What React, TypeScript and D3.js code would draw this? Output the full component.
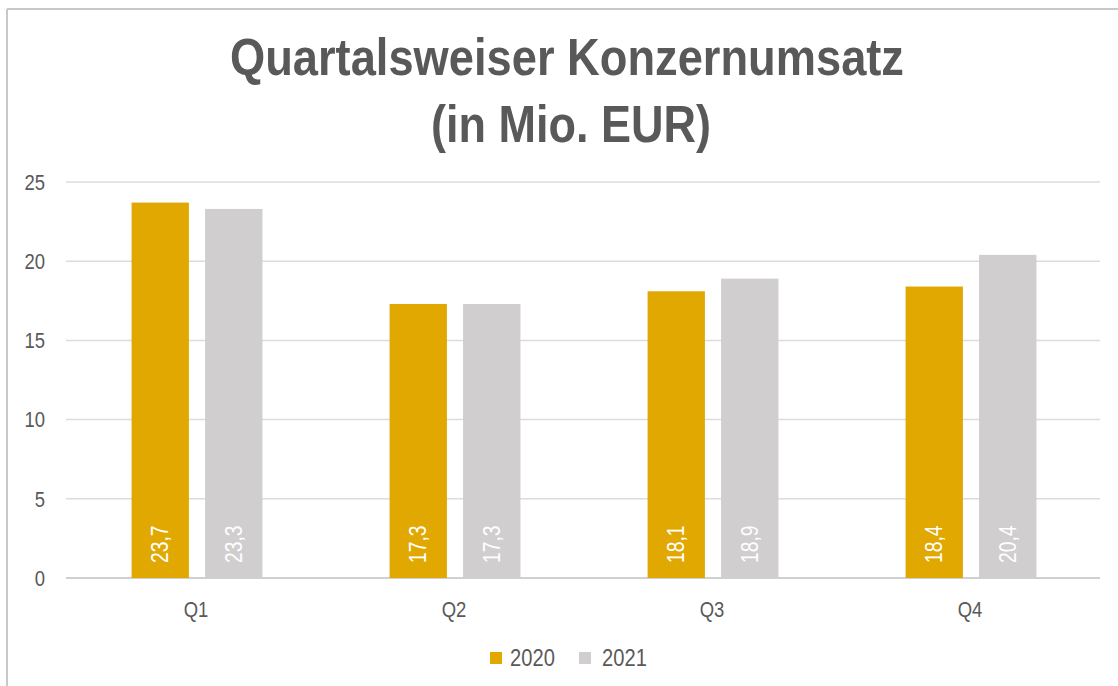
import React from "react";
import * as d3 from "d3";

const categories = ["Q1", "Q2", "Q3", "Q4"];
const seriesNames = ["2020", "2021"];
const values2020 = [23.7, 17.3, 18.1, 18.4];
const values2021 = [23.3, 17.3, 18.9, 20.4];
const yTicks = [0, 5, 10, 15, 20, 25];
const titleLines = ["Quartalsweiser Konzernumsatz", "(in Mio. EUR)"];
const colors = ["#E0A800", "#D0CECE"];

const W = 1118;
const H = 686;
const FONT = "'Liberation Sans Narrow', 'Arial Narrow', 'Liberation Sans', Arial, sans-serif";
const TEXT = "#595959";
const NARROW = 0.84;

function NText(props: {
  x: number;
  y: number;
  rotate?: number;
  anchor?: "start" | "middle" | "end";
  size: number;
  fill: string;
  dy?: string;
  children: React.ReactNode;
}) {
  const { x, y, rotate = 0, anchor = "start", size, fill, dy, children } = props;
  return (
    <g transform={`translate(${x},${y}) rotate(${rotate}) scale(${NARROW},1)`}>
      <text x={0} y={0} dy={dy} textAnchor={anchor} fontFamily={FONT} fontSize={size} fill={fill}>
        {children}
      </text>
    </g>
  );
}

export default function App() {
  const seriesValues = [values2020, values2021];
  const y = d3.scaleLinear().domain([0, 25]).range([578, 182]);
  const x0 = d3.scaleBand<string>().domain(categories).range([68, 1100]).padding(0);
  const x1 = d3
    .scaleBand<string>()
    .domain(seriesNames)
    .range([0, x0.bandwidth()])
    .paddingInner(0.22)
    .paddingOuter(0.865);
  const fmt = (v: number) => v.toFixed(1).replace(".", ",");

  return (
    <svg
      width={W}
      height={H}
      style={{ position: "absolute", left: 0, top: 0, background: "#fff" }}
    >
      <rect x={0} y={0} width={W} height={H} fill="#fff" />
      {/* frame */}
      <line x1={7} y1={9} x2={W} y2={9} stroke="#c8c8c8" strokeWidth={2} />
      <line x1={7} y1={9} x2={7} y2={H} stroke="#c8c8c8" strokeWidth={2} />

      {/* title */}
      <text
        x={567}
        y={75}
        textAnchor="middle"
        fontFamily={FONT}
        fontWeight="bold"
        fontSize={52}
        fill={TEXT}
        textLength={674}
        lengthAdjust="spacingAndGlyphs"
      >
        {titleLines[0]}
      </text>
      <text
        x={571}
        y={142}
        textAnchor="middle"
        fontFamily={FONT}
        fontWeight="bold"
        fontSize={52}
        fill={TEXT}
        textLength={280}
        lengthAdjust="spacingAndGlyphs"
      >
        {titleLines[1]}
      </text>

      {/* gridlines */}
      {yTicks.map((t) => (
        <line
          key={t}
          x1={66}
          x2={1100}
          y1={y(t)}
          y2={y(t)}
          stroke={t === 0 ? "#d0d0d0" : "#dcdcdc"}
          strokeWidth={t === 0 ? 2 : 1.5}
        />
      ))}
      {yTicks.map((t) => (
        <NText key={"l" + t} x={45} y={y(t)} dy="0.35em" anchor="end" size={22} fill={TEXT}>
          {t}
        </NText>
      ))}

      {/* bars */}
      {categories.map((c, i) => (
        <g key={c} transform={`translate(${x0(c)},0)`}>
          {seriesNames.map((s, j) => {
            const v = seriesValues[j][i];
            const bx = x1(s)!;
            const bw = x1.bandwidth();
            return (
              <g key={s}>
                <rect x={bx} y={y(v)} width={bw} height={y(0) - y(v)} fill={colors[j]} />
                <NText x={bx + bw / 2} y={563} rotate={-90} dy="0.35em" size={23} fill="#ffffff">
                  {fmt(v)}
                </NText>
              </g>
            );
          })}
          <NText x={x0.bandwidth() / 2 - 1} y={617} anchor="middle" size={22} fill={TEXT}>
            {c}
          </NText>
        </g>
      ))}

      {/* legend */}
      {seriesNames.map((s, j) => {
        const lx = 490 + j * 89;
        return (
          <g key={s}>
            <rect x={lx} y={652} width={12} height={12} fill={colors[j]} />
            <NText x={lx + 20 + j * 3} y={666} size={24} fill={TEXT}>
              {s}
            </NText>
          </g>
        );
      })}
    </svg>
  );
}
